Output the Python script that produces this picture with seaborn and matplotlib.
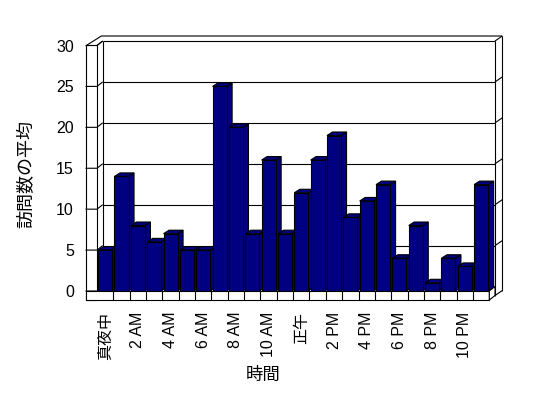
import matplotlib
matplotlib.use("Agg")
import matplotlib.pyplot as plt
from matplotlib.patches import Polygon, Rectangle
import seaborn as sns
import pandas as pd

# ---- data ----
hours = [str(h) for h in range(24)]
visits = [5, 14, 8, 6, 7, 5, 5, 25, 20, 7, 16, 7,
          12, 16, 19, 9, 11, 13, 4, 8, 1, 4, 3, 13]
tick_positions = list(range(0, 24, 2))
tick_labels = ["真夜中", "2 AM", "4 AM", "6 AM", "8 AM", "10 AM",
               "正午", "2 PM", "4 PM", "6 PM", "8 PM", "10 PM"]
y_ticks = [0, 5, 10, 15, 20, 25, 30]
x_title = "時間"
y_title = "訪問数の平均"

sns.set_style("white")
plt.rcParams["font.family"] = ["Liberation Sans", "Noto Sans CJK JP", "DejaVu Sans"]

W, H = 548, 398
fig = plt.figure(figsize=(W / 100, H / 100), dpi=100)
fig.patch.set_facecolor("white")
ax = fig.add_axes([97 / W, (H - 291) / H, 392.3 / W, 245.5 / H])
ax.set_facecolor("none")

df = pd.DataFrame({"hour": hours, "visits": visits})
sns.barplot(data=df, x="hour", y="visits", order=hours, color="#000080",
            saturation=1, width=0.86, edgecolor="black", linewidth=0.8, ax=ax)
bars = list(ax.patches)

n = len(hours)
x_lo, x_hi = -0.5, n - 0.5
ax.set_xlim(x_lo, x_hi)
ax.set_ylim(0, 30)

# depth geometry (data units)
DX, DY = 0.349, 0.55      # back wall offset
ODX, ODY = 0.446, 0.61    # wall thickness behind back plane
WL = 0.655                # left wall front width
FT = 1.1                  # floor thickness
BDX, BDY = 0.336, 0.43    # bar depth
LW = 0.8
kw = dict(color="black", lw=LW, clip_on=False, solid_capstyle="butt")

# back wall gridlines
for y in y_ticks:
    ax.plot([x_lo + DX, x_hi + DX], [y + DY, y + DY], zorder=1, **kw)
    if y > 0:
        ax.plot([x_hi + DX, x_hi + DX + ODX], [y + DY, y + DY + ODY], zorder=1, **kw)
ax.plot([x_lo + DX, x_lo + DX], [DY, 30 + DY], zorder=1, **kw)
ax.plot([x_hi + DX, x_hi + DX], [-FT + DY, 30 + DY], zorder=1, **kw)
ax.plot([x_hi + DX + ODX] * 2, [-FT + DY + ODY, 30 + DY + ODY], zorder=1, **kw)
top_outer = 30 + DY + ODY
ax.plot([x_lo - WL, x_lo - WL + 0.92, x_hi + DX + ODX],
        [30, top_outer, top_outer], zorder=1, **kw)
ax.plot([x_lo, x_lo + DX], [30, 30 + DY], zorder=1, **kw)

# left wall front face
ax.add_patch(Rectangle((x_lo - WL, -FT), WL, 30 + FT, facecolor="white",
                       edgecolor="black", lw=LW, clip_on=False, zorder=2))
for y in y_ticks:
    ax.plot([x_lo - WL - 0.05, x_lo, x_lo + DX], [y, y, y + DY], zorder=2.5, **kw)

# bars: 3D faces
for i, p in enumerate(bars):
    x0, w, h = p.get_x(), p.get_width(), p.get_height()
    base = 10 + 2 * i
    p.set_zorder(base + 1)
    p.set_clip_on(False)
    side = Polygon([(x0 + w, 0), (x0 + w + BDX, BDY), (x0 + w + BDX, h + BDY), (x0 + w, h)],
                   closed=True, facecolor="#000080", edgecolor="black", lw=LW,
                   clip_on=False, zorder=base)
    top = Polygon([(x0, h), (x0 + BDX, h + BDY), (x0 + w + BDX, h + BDY), (x0 + w, h)],
                  closed=True, facecolor="#000080", edgecolor="black", lw=LW,
                  clip_on=False, zorder=base)
    ax.add_patch(side)
    ax.add_patch(top)

# floor front face
ax.add_patch(Rectangle((x_lo - WL, -FT), (x_hi - x_lo) + WL, FT, facecolor="white",
                       edgecolor="black", lw=LW, clip_on=False, zorder=100))
for k in range(n - 1):
    ax.plot([k + 0.5, k + 0.5], [-FT, 0], zorder=101, **kw)
ax.add_patch(Polygon([(x_hi, 0), (x_hi, -FT), (x_hi + DX, -FT + DY), (x_hi + DX, DY)],
                     closed=True, facecolor="white", edgecolor="black", lw=LW,
                     clip_on=False, zorder=100))
ax.plot([x_hi + DX, x_hi + DX + ODX], [-FT + DY, -FT + DY + ODY], zorder=100, **kw)

# axes cosmetics
for s in ax.spines.values():
    s.set_visible(False)
ax.grid(False)
ax.set_yticks(y_ticks)
ax.set_yticklabels([str(v) for v in y_ticks])
ax.set_xticks(tick_positions)
ax.set_xticklabels(tick_labels, rotation=90)
ax.tick_params(axis="y", length=0, pad=16.6, labelsize=11.5, colors="black")
ax.tick_params(axis="x", length=0, pad=15, labelsize=11.5, colors="black")

ax.set_xlabel(x_title, fontsize=12.5, color="black")
ax.xaxis.set_label_coords((263 - 97) / 392.3, (291 - 375) / 245.5)
ax.xaxis.label.set_va("center")
ax.set_ylabel(y_title, fontsize=13, color="black")
ax.yaxis.set_label_coords((27 - 97) / 392.3, (291 - 174) / 245.5)
ax.yaxis.label.set_va("center")

fig.savefig("out.png", dpi=100, facecolor="white")
